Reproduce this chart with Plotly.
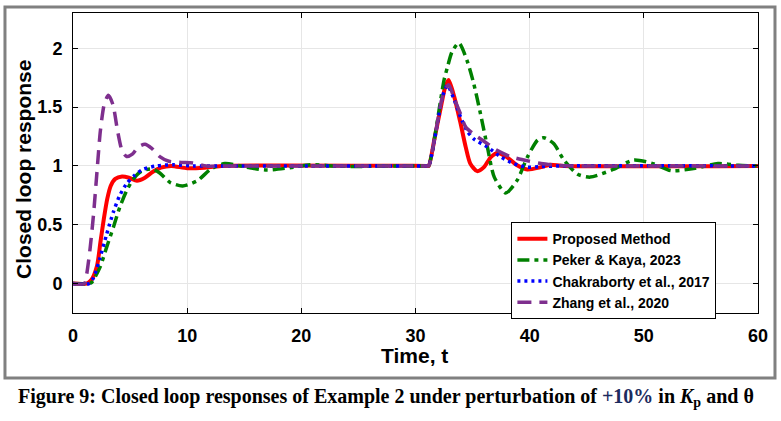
import plotly.graph_objects as go

# Values (time, response) for each controller
T_PROPOSED = [0, 1.2, 1.6, 2.1, 2.4, 2.7, 3.0, 3.3, 3.7, 4.3, 4.9, 5.6, 6.3, 7.0, 7.7, 8.6, 10.0, 11.5, 13.0,
              31.0, 31.15, 31.7, 32.2, 32.6, 32.9, 33.4, 33.95, 34.4, 34.8, 35.4, 36.0, 36.6, 37.2, 38.0, 38.9,
              39.8, 41.0, 41.8, 43.0, 60.0]
Y_PROPOSED = [0, 0, 0.03, 0.15, 0.35, 0.55, 0.72, 0.83, 0.89, 0.91, 0.9, 0.875, 0.9, 0.95, 0.985, 1.0, 0.98,
              0.985, 1.0,
              1.0, 1.0, 1.25, 1.49, 1.67, 1.73, 1.585, 1.36, 1.16, 1.02, 0.956, 0.99, 1.075, 1.11, 1.075, 1.005,
              0.97, 0.99, 1.01, 1.0, 1.0]

T_PEKER = [0, 1.4, 1.64, 2.37, 2.95, 3.54, 4.1, 4.7, 5.3, 6.0, 6.9, 7.6, 8.5, 9.6, 10.9, 12.1, 13.3, 15.2,
           17.0, 19.0, 20.8, 22.8, 24.6, 27.0,
           31.0, 31.15, 32.5, 32.8, 33.2, 33.8, 34.5, 35.1, 35.7, 36.3, 36.9, 37.9, 38.9, 39.8, 40.7, 41.25,
           42.1, 43.0, 44.2, 45.3, 47.3, 49.1, 50.8, 52.4, 54.5, 56.5, 58.3, 60.0]
Y_PEKER = [0, 0, 0.01, 0.14, 0.31, 0.48, 0.65, 0.79, 0.89, 0.955, 0.975, 0.94, 0.86, 0.83, 0.875, 0.975, 1.02,
           0.99, 0.965, 0.985, 1.01, 1.0, 0.995, 1.0,
           1.0, 1.0, 1.73, 1.84, 1.97, 2.045, 1.9, 1.7, 1.44, 1.16, 0.905, 0.77, 0.877, 1.075, 1.22, 1.24,
           1.19, 1.05, 0.93, 0.905, 0.97, 1.05, 1.02, 0.96, 0.98, 1.02, 1.005, 1.0]

T_CHAKRABORTY = [0, 1.4, 1.8, 2.37, 2.95, 3.54, 4.1, 4.7, 5.4, 6.1, 7.3, 8.8, 10.5, 13.0,
                 31.0, 31.15, 32.4, 32.8, 33.4, 33.95, 34.5, 35.1, 36.3, 37.5, 38.6, 39.8, 41.0, 43.0, 60.0]
Y_CHAKRABORTY = [0, 0, 0.05, 0.22, 0.42, 0.61, 0.75, 0.85, 0.92, 0.97, 1.0, 1.01, 1.0, 1.0,
                 1.0, 1.0, 1.6, 1.685, 1.56, 1.415, 1.3, 1.23, 1.16, 1.075, 1.02, 0.99, 0.995, 1.0, 1.0]

T_ZHANG = [0, 1.0, 1.2, 1.5, 1.8, 2.1, 2.4, 2.75, 3.1, 3.5, 3.9, 4.3, 4.7, 5.2, 5.7, 6.3, 6.9, 7.6, 8.4, 9.5,
           10.5, 11.7, 14.0,
           31.0, 31.15, 32.4, 32.9, 33.4, 33.95, 34.4, 35.1, 36.3, 37.0, 38.3, 39.5, 41.0, 42.5, 44.0, 60.0]
Y_ZHANG = [0, 0, 0.08, 0.3, 0.59, 0.95, 1.3, 1.53, 1.6, 1.52, 1.3, 1.13, 1.08, 1.1, 1.16, 1.185, 1.15, 1.08,
           1.04, 1.03, 1.025, 1.0, 1.0,
           1.0, 1.0, 1.6, 1.69, 1.57, 1.44, 1.33, 1.27, 1.19, 1.14, 1.08, 1.05, 1.02, 1.005, 1.0, 1.0]

SERIES_NAMES = ['Proposed Method', 'Peker & Kaya, 2023', 'Chakraborty et al., 2017', 'Zhang et al., 2020']
X_TICKS = [0, 10, 20, 30, 40, 50, 60]
Y_TICKS = [0, 0.5, 1, 1.5, 2]

CAPTION = ('Figure 9: Closed loop responses of Example 2 under perturbation of '
           '<span style="color:#1c2b5e">+10%</span> in <i>K</i><sub>p</sub> and θ')

AXIS_FONT = dict(family='Liberation Sans, Arial', size=18, color='black')


def add_response(fig: go.Figure, t, y, name: str, color: str, width: float, dash: str) -> None:
    fig.add_trace(go.Scatter(x=t, y=y, name=name, mode='lines',
                             line=dict(color=color, width=width, dash=dash, shape='spline', smoothing=0.7)))


def build_figure() -> go.Figure:
    fig = go.Figure()
    add_response(fig, T_PROPOSED, Y_PROPOSED, SERIES_NAMES[0], '#ff0000', 4, 'solid')
    add_response(fig, T_PEKER, Y_PEKER, SERIES_NAMES[1], '#008000', 3.5, '12px,5px,4px,5px')
    add_response(fig, T_CHAKRABORTY, Y_CHAKRABORTY, SERIES_NAMES[2], '#0000ff', 3.5, '3px,4px')
    add_response(fig, T_ZHANG, Y_ZHANG, SERIES_NAMES[3], '#7e2f8e', 3.5, '14px,8px')

    axis_common = dict(showline=True, linecolor='black', linewidth=1, mirror='ticks',
                       ticks='inside', ticklen=5, tickcolor='black', tickwidth=1,
                       showgrid=True, gridcolor='#e6e6e6', gridwidth=1, zeroline=False,
                       tickfont=dict(AXIS_FONT, weight='bold'), ticklabelstandoff=6)
    fig.update_xaxes(range=[0, 60], tickvals=X_TICKS, **axis_common)
    fig.update_yaxes(range=[-0.25, 2.3], tickvals=Y_TICKS, **axis_common)

    fig.update_layout(
        width=781, height=421,
        margin=dict(l=73, r=23, t=13, b=108),
        plot_bgcolor='white', paper_bgcolor='white',
        font=dict(family='Liberation Sans, Arial', color='black'),
        legend=dict(x=0.64, y=0.303, xanchor='left', yanchor='top',
                    bgcolor='white', bordercolor='black', borderwidth=1,
                    font=dict(size=14, weight='bold'), itemwidth=30, tracegroupgap=0),
        showlegend=True,
    )

    # axis titles as annotations so they sit where the MATLAB ones did
    fig.add_annotation(text='<b>Time, t</b>', x=0.498, y=-0.14, xref='paper', yref='paper',
                       showarrow=False, font=dict(size=21), xanchor='center', yanchor='middle')
    fig.add_annotation(text='<b>Closed loop response</b>', x=-0.0715, y=0.477, xref='paper', yref='paper',
                       showarrow=False, font=dict(size=21), textangle=-90, xanchor='center', yanchor='middle')

    # grey frame round the figure and the caption under it
    fig.add_shape(type='rect', xref='paper', yref='paper', x0=-0.0993, x1=1.0248, y0=-0.2167, y1=1.02,
                  line=dict(color='#808080', width=3), layer='below')
    fig.add_annotation(text='<b>' + CAPTION + '</b>', x=-0.083, y=-0.28, xref='paper', yref='paper',
                       showarrow=False, xanchor='left', yanchor='middle',
                       font=dict(family='Liberation Serif, Times New Roman', size=20, color='black'))
    return fig


if __name__ == '__main__':
    fig = build_figure()
    # the page body has an 8px default margin; drop it so the figure fills the window
    fig.write_html('out.html', config={'displayModeBar': False},
                   post_script="document.body.style.margin='0';")
